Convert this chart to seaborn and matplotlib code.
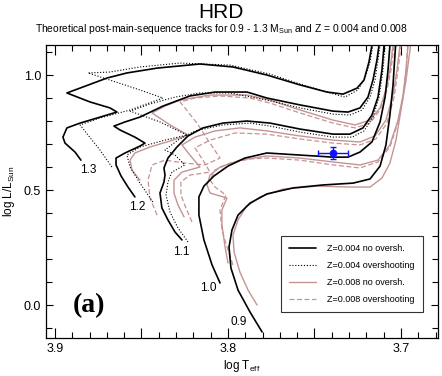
import matplotlib
matplotlib.use("Agg")
import matplotlib.pyplot as plt
from matplotlib.lines import Line2D
from matplotlib.ticker import FixedLocator, MultipleLocator, FuncFormatter
import seaborn as sns

# ─── Track data (log Teff, log L/Lsun) ───────────────────────────────────────

# Z = 0.004, no overshooting
t_a13 = [3.8850, 3.8884, 3.8942, 3.8954, 3.8931, 3.8855, 3.8757, 3.8642, 3.8682, 3.8798, 3.8931, 3.8838, 3.8699,
         3.8584, 3.8410, 3.8162, 3.7971, 3.7775, 3.7584, 3.7428, 3.7335, 3.7254, 3.7214, 3.7185, 3.7168, 3.7150]
l_a13 = [0.630, 0.665, 0.704, 0.730, 0.770, 0.791, 0.813, 0.839, 0.857, 0.883, 0.922, 0.948, 0.987,
         1.009, 1.030, 1.048, 1.035, 1.000, 0.957, 0.926, 0.917, 0.943, 0.978, 1.057, 1.130, 1.217]
t_a12 = [3.8538, 3.8578, 3.8618, 3.8647, 3.8647, 3.8595, 3.8509, 3.8480, 3.8538, 3.8624, 3.8659, 3.8595, 3.8509,
         3.8376, 3.8220, 3.8075, 3.7890, 3.7775, 3.7584, 3.7393, 3.7306, 3.7237, 3.7191, 3.7162, 3.7139, 3.7127, 3.7116]
l_a12 = [0.470, 0.513, 0.561, 0.609, 0.639, 0.661, 0.691, 0.704, 0.730, 0.761, 0.778, 0.796, 0.817,
         0.865, 0.909, 0.926, 0.926, 0.900, 0.870, 0.843, 0.839, 0.857, 0.904, 0.978, 1.065, 1.130, 1.217]
t_a11 = [3.8266, 3.8306, 3.8347, 3.8382, 3.8393, 3.8370, 3.8364, 3.8370, 3.8347, 3.8295, 3.8231, 3.8145, 3.8029,
         3.7890, 3.7757, 3.7584, 3.7393, 3.7295, 3.7220, 3.7168, 3.7133, 3.7110, 3.7098, 3.7087]
l_a11 = [0.283, 0.317, 0.370, 0.422, 0.487, 0.535, 0.565, 0.596, 0.639, 0.687, 0.735, 0.770, 0.791,
         0.800, 0.791, 0.765, 0.743, 0.743, 0.770, 0.826, 0.904, 1.022, 1.130, 1.217]
t_a10 = [3.8046, 3.8092, 3.8139, 3.8168, 3.8168, 3.8139, 3.8081, 3.8000, 3.7902, 3.7775, 3.7584, 3.7393, 3.7306,
         3.7237, 3.7168, 3.7121, 3.7092, 3.7075, 3.7064, 3.7052]
l_a10 = [0.096, 0.174, 0.283, 0.391, 0.470, 0.517, 0.561, 0.604, 0.639, 0.661, 0.652, 0.643, 0.643,
         0.665, 0.709, 0.796, 0.904, 1.022, 1.130, 1.217]
t_a09 = [3.7803, 3.7873, 3.7942, 3.7983, 3.7994, 3.7977, 3.7942, 3.7873, 3.7775, 3.7624, 3.7451, 3.7277, 3.7179,
         3.7121, 3.7087, 3.7064, 3.7046, 3.7035, 3.7023]
l_a09 = [-0.117, -0.030, 0.065, 0.161, 0.252, 0.326, 0.391, 0.443, 0.483, 0.509, 0.522, 0.530, 0.548,
         0.604, 0.696, 0.826, 0.957, 1.087, 1.217]

# Z = 0.004, overshooting
t_b13 = [3.8671, 3.8740, 3.8809, 3.8855, 3.8740, 3.8566, 3.8376, 3.8509, 3.8682, 3.8809, 3.8682, 3.8509, 3.8277,
         3.7988, 3.7757, 3.7584, 3.7410, 3.7324, 3.7249, 3.7208, 3.7179, 3.7162, 3.7145]
l_b13 = [0.600, 0.674, 0.739, 0.783, 0.813, 0.848, 0.900, 0.935, 0.978, 1.009, 1.013, 1.035, 1.052,
         1.043, 1.004, 0.961, 0.922, 0.904, 0.935, 0.987, 1.057, 1.130, 1.217]
t_b12 = [3.8434, 3.8509, 3.8566, 3.8584, 3.8509, 3.8364, 3.8237, 3.8393, 3.8566, 3.8451, 3.8306, 3.8162, 3.7988,
         3.7775, 3.7584, 3.7393, 3.7295, 3.7225, 3.7179, 3.7150, 3.7133, 3.7121, 3.7110]
l_b12 = [0.448, 0.530, 0.600, 0.652, 0.687, 0.717, 0.739, 0.796, 0.843, 0.874, 0.904, 0.922, 0.922,
         0.891, 0.857, 0.830, 0.826, 0.848, 0.904, 0.978, 1.065, 1.130, 1.217]
t_b11 = [3.8231, 3.8289, 3.8335, 3.8358, 3.8347, 3.8324, 3.8249, 3.8306, 3.8364, 3.8289, 3.8191, 3.8029, 3.7873,
         3.7757, 3.7584, 3.7393, 3.7283, 3.7214, 3.7162, 3.7127, 3.7104, 3.7092, 3.7081]
l_b11 = [0.274, 0.335, 0.404, 0.478, 0.535, 0.578, 0.609, 0.652, 0.674, 0.717, 0.757, 0.783, 0.791,
         0.778, 0.752, 0.730, 0.730, 0.757, 0.817, 0.904, 1.022, 1.130, 1.217]

# Z = 0.008, no overshooting
t_c13 = [3.8509, 3.8555, 3.8566, 3.8538, 3.8451, 3.8335, 3.8231, 3.8335, 3.8439, 3.8364, 3.8277, 3.8104, 3.7890,
         3.7757, 3.7584, 3.7393, 3.7266, 3.7179, 3.7121, 3.7087, 3.7064, 3.7046, 3.7035]
l_c13 = [0.543, 0.587, 0.630, 0.661, 0.687, 0.713, 0.739, 0.783, 0.835, 0.865, 0.891, 0.913, 0.913,
         0.891, 0.848, 0.804, 0.783, 0.804, 0.857, 0.935, 1.022, 1.130, 1.217]
t_c12 = [3.8254, 3.8289, 3.8312, 3.8312, 3.8266, 3.8162, 3.8220, 3.8266, 3.8191, 3.8075, 3.7931, 3.7775, 3.7584,
         3.7393, 3.7237, 3.7150, 3.7087, 3.7046, 3.7023, 3.7006, 3.6994]
l_c12 = [0.383, 0.435, 0.487, 0.543, 0.578, 0.600, 0.652, 0.696, 0.730, 0.757, 0.770, 0.757, 0.735,
         0.717, 0.709, 0.735, 0.804, 0.913, 1.022, 1.130, 1.217]
t_c11 = [3.8000, 3.8017, 3.8035, 3.8035, 3.8006, 3.8046, 3.8104, 3.8121, 3.8104, 3.8046, 3.7931, 3.7775, 3.7584,
         3.7393, 3.7237, 3.7133, 3.7064, 3.7017, 3.6988, 3.6971, 3.6960, 3.6948]
l_c11 = [0.183, 0.252, 0.348, 0.413, 0.465, 0.474, 0.487, 0.522, 0.565, 0.600, 0.630, 0.648, 0.639,
         0.622, 0.609, 0.630, 0.696, 0.804, 0.913, 1.022, 1.130, 1.217]
t_c10 = [3.7832, 3.7884, 3.7931, 3.7965, 3.7971, 3.7942, 3.7896, 3.7815, 3.7682, 3.7486, 3.7295, 3.7179, 3.7110,
         3.7064, 3.7029, 3.7000, 3.6971, 3.6948, 3.6931]
l_c10 = [0.000, 0.065, 0.143, 0.230, 0.304, 0.370, 0.426, 0.470, 0.504, 0.517, 0.513, 0.513, 0.552,
         0.617, 0.717, 0.848, 0.978, 1.109, 1.217]

# Z = 0.008, overshooting
t_d13 = [3.8410, 3.8451, 3.8462, 3.8439, 3.8364, 3.8249, 3.8133, 3.8046, 3.8116, 3.8179, 3.8249, 3.8277, 3.8191,
         3.8046, 3.7873, 3.7757, 3.7584, 3.7393, 3.7266, 3.7179, 3.7121, 3.7081, 3.7058, 3.7040, 3.7029]
l_d13 = [0.391, 0.465, 0.543, 0.609, 0.630, 0.617, 0.609, 0.639, 0.717, 0.791, 0.857, 0.883, 0.900,
         0.909, 0.900, 0.878, 0.835, 0.791, 0.770, 0.791, 0.848, 0.935, 1.022, 1.130, 1.217]
t_d12 = [3.8208, 3.8243, 3.8272, 3.8272, 3.8220, 3.8104, 3.8145, 3.8191, 3.8104, 3.7960, 3.7775, 3.7584, 3.7393,
         3.7237, 3.7145, 3.7081, 3.7040, 3.7017, 3.7000, 3.6988]
l_d12 = [0.361, 0.422, 0.478, 0.535, 0.565, 0.578, 0.630, 0.683, 0.717, 0.748, 0.743, 0.722, 0.704,
         0.696, 0.722, 0.791, 0.904, 1.022, 1.130, 1.217]
t_d11 = [3.7971, 3.8000, 3.8035, 3.8046, 3.8012, 3.8075, 3.8104, 3.8075, 3.7988, 3.7873, 3.7775, 3.7584, 3.7393,
         3.7237, 3.7133, 3.7064, 3.7017, 3.6988, 3.6971, 3.6960, 3.6948]
l_d11 = [0.174, 0.239, 0.326, 0.413, 0.478, 0.513, 0.543, 0.587, 0.617, 0.635, 0.639, 0.630, 0.609,
         0.596, 0.622, 0.687, 0.796, 0.904, 1.013, 1.130, 1.217]

# mass labels at the start of each Z=0.004 track
mass_labels = ["1.3", "1.2", "1.1", "1.0", "0.9"]
mass_label_t = [3.8809, 3.8526, 3.8272, 3.8116, 3.7936]
mass_label_l = [0.587, 0.426, 0.230, 0.074, -0.074]

# observed star with error bars
star_t = [3.7393]
star_l = [0.661]
star_t_err = [0.0084]
star_l_err = [0.028]

legend_labels = ["Z=0.004 no oversh.", "Z=0.004 overshooting",
                 "Z=0.008 no oversh.", "Z=0.008 overshooting"]

# ─── Plot ─────────────────────────────────────────────────────────────────────

sns.set_style("ticks")
plt.rcParams['font.family'] = ['Liberation Sans', 'DejaVu Sans']
plt.rcParams['mathtext.fontset'] = 'custom'
plt.rcParams['mathtext.rm'] = 'Liberation Sans'
for key in ['text.color', 'axes.labelcolor', 'xtick.color', 'ytick.color', 'axes.edgecolor']:
    plt.rcParams[key] = 'black'

BLACK = '#000000'
PINK = '#c49494'

fig = plt.figure(figsize=(4.42, 3.76), dpi=100)
ax = fig.add_axes([0.104, 0.101, 0.887, 0.779])

pink_solid = [(t_c13, l_c13), (t_c12, l_c12), (t_c11, l_c11), (t_c10, l_c10)]
pink_dash = [(t_d13, l_d13), (t_d12, l_d12), (t_d11, l_d11)]
black_dot = [(t_b13, l_b13), (t_b12, l_b12), (t_b11, l_b11)]
black_solid = [(t_a13, l_a13), (t_a12, l_a12), (t_a11, l_a11), (t_a10, l_a10), (t_a09, l_a09)]

for t, l in pink_dash:
    sns.lineplot(x=t, y=l, sort=False, estimator=None, color=PINK, lw=0.9,
                 linestyle=(0, (4, 2)), ax=ax)
for t, l in pink_solid:
    sns.lineplot(x=t, y=l, sort=False, estimator=None, color=PINK, lw=1.0, ax=ax)
for t, l in black_dot:
    sns.lineplot(x=t, y=l, sort=False, estimator=None, color=BLACK, lw=0.8,
                 linestyle=(0, (1, 1.6)), ax=ax)
for t, l in black_solid:
    sns.lineplot(x=t, y=l, sort=False, estimator=None, color=BLACK, lw=1.2, ax=ax)

for lab, t, l in zip(mass_labels, mass_label_t, mass_label_l):
    ax.text(t, l, lab, fontsize=8.5, ha='center', va='center')

ax.errorbar(star_t, star_l, xerr=star_t_err, yerr=star_l_err, fmt='o', color='#1010ff',
            ms=4.5, capsize=2, elinewidth=1.0, capthick=1.0, zorder=5)

ax.set_xlim(3.9052, 3.6786)
ax.set_ylim(-0.1435, 1.130)

ax.xaxis.set_major_locator(FixedLocator([3.9, 3.85, 3.8, 3.75, 3.7]))
ax.xaxis.set_minor_locator(MultipleLocator(0.01))
ax.xaxis.set_major_formatter(FuncFormatter(
    lambda v, p: f"{v:.1f}" if abs(round(v, 1) - v) < 1e-6 else ""))
ax.yaxis.set_major_locator(MultipleLocator(0.5))
ax.yaxis.set_minor_locator(MultipleLocator(0.1))
ax.yaxis.set_major_formatter(FuncFormatter(lambda v, p: f"{v:.1f}"))

ax.tick_params(which='both', direction='in', top=True, right=True, labelsize=9, width=0.8)
ax.tick_params(axis='x', which='major', length=7)
ax.tick_params(axis='x', which='minor', length=4)
ax.tick_params(axis='y', which='major', length=5)
ax.tick_params(axis='y', which='minor', length=4)
for s in ax.spines.values():
    s.set_linewidth(0.9)

ax.set_xlabel(r"log T$_{\rm eff}$", fontsize=8.5, labelpad=2)
ax.set_ylabel(r"log L/L$_{\rm Sun}$", fontsize=8.5, labelpad=5)

fig.text(0.5, 0.966, "HRD", fontsize=15, ha='center', va='center')
fig.text(0.5, 0.924, r"Theoretical post-main-sequence tracks for 0.9 - 1.3 M$_{\rm Sun}$ and Z = 0.004 and 0.008",
         fontsize=7.4, ha='center', va='center')

ax.text(0.068, 0.09, "(a)", transform=ax.transAxes, fontsize=20, fontweight='bold',
        family=['Liberation Serif', 'DejaVu Serif'], ha='left', va='baseline')

handles = [
    Line2D([], [], color=BLACK, lw=1.2),
    Line2D([], [], color=BLACK, lw=0.8, linestyle=(0, (1, 1.6))),
    Line2D([], [], color=PINK, lw=1.0),
    Line2D([], [], color=PINK, lw=0.9, linestyle=(0, (4, 2))),
]
leg = ax.legend(handles, legend_labels, loc='lower right', bbox_to_anchor=(0.972, 0.072),
                fontsize=6.5, frameon=True, fancybox=False, edgecolor='black',
                handlelength=3.0, handletextpad=1.2, labelspacing=0.9, borderpad=0.9)
leg.get_frame().set_linewidth(0.8)

fig.savefig("out.png", dpi=100)
